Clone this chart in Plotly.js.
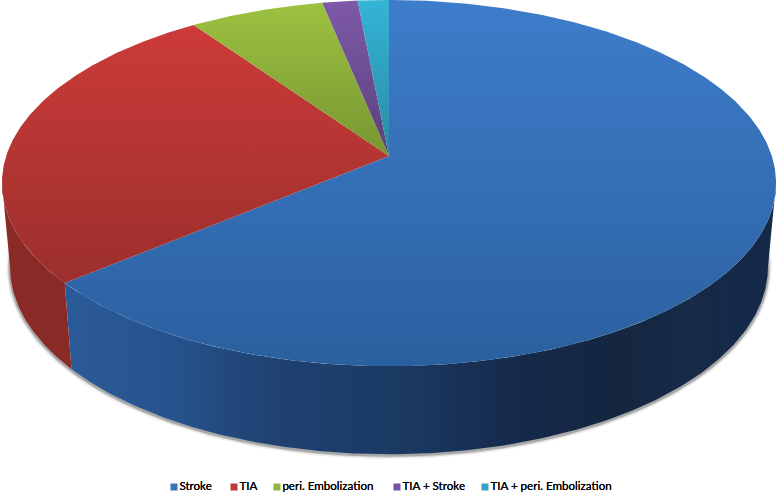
<!DOCTYPE html>
<html>
<head>
<meta charset="utf-8">
<script src="https://cdn.plot.ly/plotly-3.0.1.min.js"></script>
<style>html,body{margin:0;padding:0;background:#fff}#chart{width:778px;height:493px}</style>
</head>
<body>
<div id="chart"></div>
<script>
// values (percent)
var categories = ["Stroke", "TIA", "peri. Embolization", "TIA + Stroke", "TIA + peri. Embolization"];
var values = [63.9, 26.4, 6.5, 1.7, 1.5];

// top-face colours (far edge → near edge)
var topFar  = ["#3e7dcb", "#cc3b39", "#9dc341", "#7e59a9", "#34b4d7"];
var topNear = ["#2b609f", "#9c2f2c", "#789631", "#5a407b", "#2b8aa3"];
var gradFrom = [0, 25, 0, 0, 0];
var gradTo   = [366, 282, 156, 156, 156];
var swatch  = ["#3a74ba", "#bb3a37", "#93b33f", "#7455a0", "#36a2c4"];
// legend swatch positions
var legendX = [174, 234, 277, 397, 485];

// projection of the tilted disc (top rim, bottom rim)
var rimTop = {cx: 389, apex: 156, a: -156, d: 382.8, c: 0.148};
var rimBot = {cx: 389, apex: 239, a: -148, d: 374.8, c: 0.148};
function project(r, deg) {
  var t = deg * Math.PI / 180, x = Math.sin(t), v = Math.cos(t), w = 1 + r.c * v;
  return [r.cx + r.d * x / w, (r.apex + r.a * v) / w];
}
function arc(r, from, to) {
  var pts = [], n = Math.max(2, Math.ceil(Math.abs(to - from) * 2));
  for (var i = 0; i <= n; i++) pts.push(project(r, from + (to - from) * i / n));
  return pts;
}
function xs(p) { return p.map(function (q) { return q[0]; }); }
function ys(p) { return p.map(function (q) { return q[1]; }); }

var total = values.reduce(function (a, b) { return a + b; }, 0);
var edges = [0];
values.forEach(function (v, i) { edges.push(edges[i] + v / total * 360); });

var traces = [];
// soft shadow under the bottom rim
[[8, 0.06], [5, 0.12], [3, 0.2]].forEach(function (s) {
  var p = arc(rimBot, 92, 268);
  traces.push({x: xs(p), y: ys(p).map(function (y) { return y + 1; }), mode: "lines", hoverinfo: "skip",
    showlegend: false, line: {color: "rgba(0,0,0," + s[1] + ")", width: s[0]}});
});
// side walls, from the rim's outermost point on each side
var sideStops = [
  {from: 98.5, to: edges[1], scale: [[0, "#2a5a98"], [0.14, "#27548f"], [0.29, "#1f4272"], [0.47, "#1b3a63"], [0.645, "#15294a"], [0.78, "#14263f"], [0.88, "#172a47"], [1, "#13294a"]]},
  {from: edges[1], to: 261.5, scale: [[0, "#8a2a27"], [1, "#8a2a27"]]}
];
sideStops.forEach(function (s) {
  var p = arc(rimTop, s.from, s.to).concat(arc(rimBot, s.to, s.from));
  traces.push({x: xs(p), y: ys(p), mode: "lines", fill: "toself", hoverinfo: "skip", showlegend: false,
    line: {width: 0}, fillgradient: {type: "horizontal", colorscale: s.scale, start: 65, stop: 775}});
});
// top faces
categories.forEach(function (name, i) {
  var c = [rimTop.cx, rimTop.apex];
  var p = [c].concat(arc(rimTop, edges[i], edges[i + 1])).concat([c]);
  traces.push({x: xs(p), y: ys(p), mode: "lines", fill: "toself", name: name, showlegend: false,
    line: {width: 0}, hoverinfo: "name",
    fillgradient: {type: "vertical", colorscale: [[0, topFar[i]], [1, topNear[i]]], start: gradFrom[i], stop: gradTo[i]}});
});
// legend
categories.forEach(function (name, i) {
  traces.push({x: [legendX[i]], y: [487], mode: "markers+text", name: name, showlegend: false,
    text: [name], textposition: "middle right", hoverinfo: "name",
    marker: {symbol: "square", size: 7, color: swatch[i]},
    textfont: {family: "Lato, sans-serif", size: 11.6, color: "#000", shadow: "0 0 0.5px #000"}});
});

Plotly.newPlot("chart", traces, {
  width: 778, height: 493, margin: {l: 0, r: 0, t: 0, b: 0},
  paper_bgcolor: "#fff", plot_bgcolor: "#fff", showlegend: false,
  xaxis: {range: [0, 778], visible: false, fixedrange: true},
  yaxis: {range: [493, 0], visible: false, fixedrange: true}
}, {displayModeBar: false, staticPlot: true});
</script>
</body>
</html>
